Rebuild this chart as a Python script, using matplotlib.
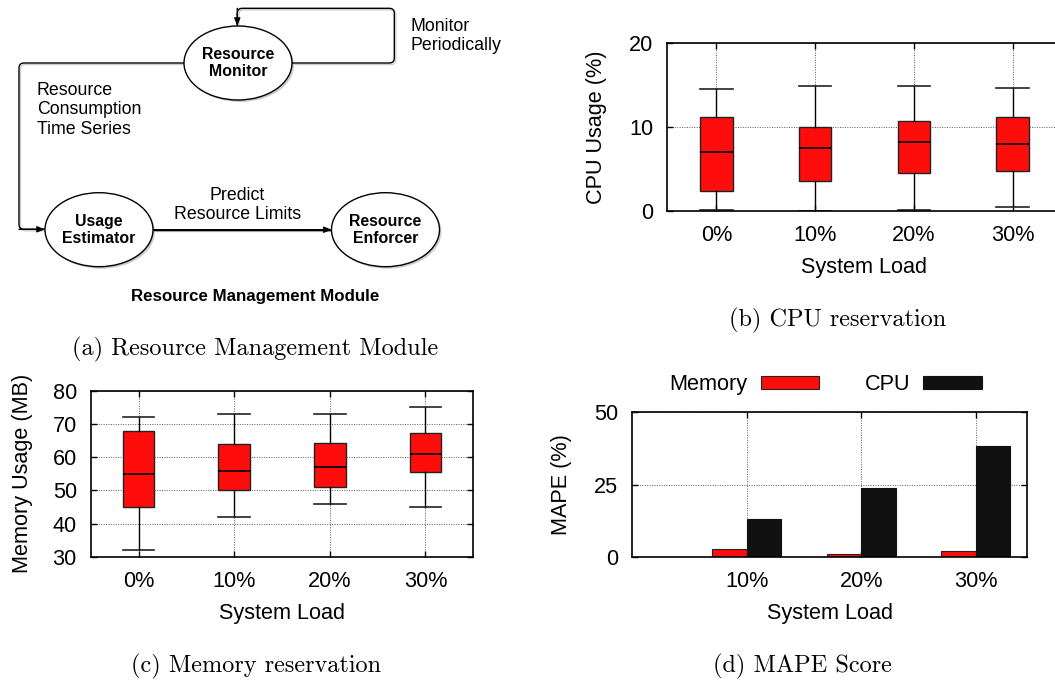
import matplotlib
matplotlib.use("Agg")
import matplotlib.pyplot as plt
from matplotlib.patches import Ellipse, PathPatch
from matplotlib.path import Path
import numpy as np

plt.rcParams['font.family'] = ['Liberation Sans', 'DejaVu Sans']

# ---- data ----
loads = ['0%', '10%', '20%', '30%']

# CPU usage (%) box stats
cpu_whislo = [0.1, 0.0, 0.1, 0.5]
cpu_q1 = [2.4, 3.6, 4.5, 4.7]
cpu_med = [7.05, 7.45, 8.25, 8.0]
cpu_q3 = [11.2, 10.0, 10.7, 11.2]
cpu_whishi = [14.6, 14.95, 14.95, 14.7]

# Memory usage (MB) box stats
mem_whislo = [32, 42, 46, 45]
mem_q1 = [45, 50, 51, 55.7]
mem_med = [55, 56, 57, 61]
mem_q3 = [68, 64, 64.3, 67.3]
mem_whishi = [72, 73, 73, 75]

# MAPE (%)
mape_loads = ['10%', '20%', '30%']
mape_mem = [2.8, 1.0, 2.1]
mape_cpu = [13.0, 23.8, 38.5]

RED = '#ff0d0d'
FS = 15.6

fig = plt.figure(figsize=(10.55, 6.83), dpi=100)

# ---- overlay for diagram (a) and captions, pixel coords ----
ov = fig.add_axes([0, 0, 1, 1])
ov.set_xlim(0, 1055)
ov.set_ylim(683, 0)
ov.axis('off')

def node(x, y, label):
    ov.add_patch(Ellipse((x + 2, y + 2), 108, 74, facecolor='#cccccc', edgecolor='none', zorder=1))
    ov.add_patch(Ellipse((x, y), 108, 74, facecolor='white', edgecolor='black', lw=1.0, zorder=2))
    ov.text(x, y, label, ha='center', va='center', fontsize=11.4, fontweight='bold',
            linespacing=1.15, zorder=3)

def rounded(xs, ys, r=5):
    pts = np.column_stack([xs, ys]).astype(float)
    verts = [pts[0]]
    codes = [Path.MOVETO]
    for i in range(1, len(pts) - 1):
        a, b, c = pts[i - 1], pts[i], pts[i + 1]
        d1 = (b - a) / np.linalg.norm(b - a)
        d2 = (c - b) / np.linalg.norm(c - b)
        verts += [b - d1 * r, b, b + d2 * r]
        codes += [Path.LINETO, Path.CURVE3, Path.CURVE3]
    verts.append(pts[-1])
    codes.append(Path.LINETO)
    return Path(verts, codes)

def wire(xs, ys):
    sh = rounded(np.array(xs) + 1.5, np.array(ys) + 1.5)
    ov.add_patch(PathPatch(sh, facecolor='none', edgecolor='#cccccc', lw=1.0, zorder=0))
    ov.add_patch(PathPatch(rounded(xs, ys), facecolor='none', edgecolor='black', lw=1.0, zorder=1))
    ov.annotate('', xy=(xs[-1], ys[-1]), xytext=(xs[-2], ys[-2]),
                arrowprops=dict(arrowstyle='-|>,head_length=0.45,head_width=0.18',
                                color='black', lw=1.0, shrinkA=0, shrinkB=0), zorder=4)

node(238, 63, 'Resource\nMonitor')
node(99, 229.7, 'Usage\nEstimator')
node(385.5, 229.7, 'Resource\nEnforcer')

wire([291.7, 394.3, 394.3, 237.3, 237.3], [63, 63, 8.3, 8.3, 26])
wire([184.3, 19, 19, 45], [63, 63, 229.3, 229.3])
wire([153.3, 331.7], [229.7, 229.7])

ov.text(410.7, 36, 'Monitor\nPeriodically', ha='left', va='center', fontsize=12.8, linespacing=1.2)
ov.text(36.7, 110, 'Resource\nConsumption\nTime Series', ha='left', va='center',
        fontsize=12.8, linespacing=1.2)
ov.text(237.3, 205, 'Predict\nResource Limits', ha='center', va='center', fontsize=12.8,
        linespacing=1.2)
ov.text(255, 296, 'Resource Management Module', ha='center', va='center', fontsize=12.2,
        fontweight='bold')

cap = dict(ha='center', va='center', fontsize=17.5, family='cmr10')
ov.text(255, 349, '(a) Resource Management Module', **cap)
ov.text(837.7, 320, '(b) CPU reservation', **cap)
ov.text(255.8, 666.5, '(c) Memory reservation', **cap)
ov.text(802, 666, '(d) MAPE Score', **cap)


def style(ax):
    ax.grid(True, color='0.35', linestyle=(0, (1, 1.5)), lw=0.7)
    ax.set_axisbelow(True)
    for s in ax.spines.values():
        s.set_linewidth(1.2)
    ax.tick_params(direction='in', length=4, width=1, top=True, right=True,
                   labelsize=FS, pad=10)
    ax.set_facecolor('none')


def boxes(ax, lo, q1, med, q3, hi):
    stats = [dict(whislo=lo[i], q1=q1[i], med=med[i], q3=q3[i], whishi=hi[i], label=loads[i])
             for i in range(len(loads))]
    ax.bxp(stats, positions=range(len(loads)), widths=0.33, capwidths=0.33,
           showfliers=False, patch_artist=True,
           boxprops=dict(facecolor=RED, edgecolor='#222222', lw=1.0),
           medianprops=dict(color='black', lw=1.2),
           whiskerprops=dict(color='black', lw=1.0),
           capprops=dict(color='#222222', lw=1.2))
    ax.set_xlim(-0.5, 3.5)


# ---- (b) CPU ----
axb = fig.add_axes([0.6322, 0.6915, 0.3744, 0.2451])
style(axb)
boxes(axb, cpu_whislo, cpu_q1, cpu_med, cpu_q3, cpu_whishi)
axb.set_ylim(0, 20)
axb.set_yticks([0, 10, 20])
axb.set_ylabel('CPU Usage (%)', fontsize=FS, labelpad=16)
axb.set_xlabel('System Load', fontsize=FS, labelpad=8)

# ---- (c) Memory ----
axc = fig.add_axes([0.08597, 0.18448, 0.36265, 0.24348])
style(axc)
boxes(axc, mem_whislo, mem_q1, mem_med, mem_q3, mem_whishi)
axc.set_ylim(30, 80)
axc.set_yticks(range(30, 81, 10))
axc.set_ylabel('Memory Usage (MB)', fontsize=FS, labelpad=14)
axc.set_xlabel('System Load', fontsize=FS, labelpad=8)

# ---- (d) MAPE ----
axd = fig.add_axes([0.59905, 0.18448, 0.37469, 0.21186])
style(axd)
pos = np.arange(1, len(mape_loads) + 1)
axd.bar(pos - 0.15, mape_mem, width=0.3, color=RED, edgecolor='#222222', lw=0.8, label='Memory')
axd.bar(pos + 0.15, mape_cpu, width=0.3, color='#111111', edgecolor='#111111', lw=0.8, label='CPU')
axd.set_xlim(0, 3.45)
axd.set_xticks(pos)
axd.set_xticklabels(mape_loads)
axd.set_ylim(0, 50)
axd.set_yticks([0, 25, 50])
axd.set_ylabel('MAPE (%)', fontsize=FS, labelpad=16)
axd.set_xlabel('System Load', fontsize=FS, labelpad=8)
axd.legend(ncol=2, markerfirst=False, frameon=False, fontsize=FS, loc='center',
           bbox_to_anchor=(0.49, 1.19), handlelength=2.7, handleheight=0.5,
           handletextpad=0.6, columnspacing=2.1)

fig.savefig('out.png', dpi=100)
